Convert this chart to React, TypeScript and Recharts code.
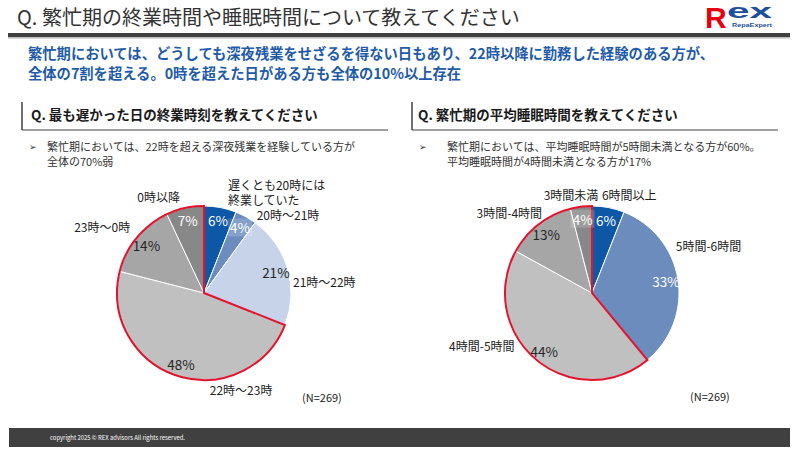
import { Cell, Pie, PieChart } from "recharts";

const FONT = '"Noto Sans CJK JP", "Noto Sans", "DejaVu Sans", sans-serif';
const RAD = Math.PI / 180;

// 最も遅かった日の終業時刻
const END_TIME_LABELS = ["遅くとも20時には\n終業していた", "20時～21時", "21時～22時", "22時～23時", "23時～0時", "0時以降"];
const END_TIME_VALUES = [6, 4, 21, 48, 14, 7];
const END_TIME_HIGHLIGHT_FROM = 3; // 22時以降

// 繁忙期の平均睡眠時間
const SLEEP_LABELS = ["6時間以上", "5時間-6時間", "4時間-5時間", "3時間-4時間", "3時間未満"];
const SLEEP_VALUES = [6, 33, 44, 13, 4];
const SLEEP_HIGHLIGHT_FROM = 2; // 5時間未満

const SAMPLE_NOTE = "(N=269)";

const END_TIME_COLORS = ["#0d57a7", "#6b8cbd", "#c6d3e8", "#c0c0c0", "#a6a6a6", "#888888"];
const END_TIME_TEXT = ["#fff", "#fff", "#262626", "#262626", "#262626", "#fff"];
const SLEEP_COLORS = ["#0d57a7", "#6b8cbd", "#c0c0c0", "#a6a6a6", "#888888"];
const SLEEP_TEXT = ["#fff", "#fff", "#262626", "#262626", "#fff"];

// category label nudges relative to a point just outside the slice
const END_TIME_NUDGE = [
  { dx: 5, dy: -2, anchor: "start" },
  { dx: 4, dy: 10, anchor: "start" },
  { dx: -8, dy: 17, anchor: "start" },
  { dx: 37, dy: 0, anchor: "start" },
  { dx: 4, dy: -2, anchor: "end" },
  { dx: -2, dy: 2, anchor: "end" },
];
const SLEEP_NUDGE = [
  { dx: -9, dy: 1, anchor: "start" },
  { dx: -16, dy: -32, anchor: "start" },
  { dx: -13, dy: -25, anchor: "end" },
  { dx: 12, dy: -1, anchor: "end" },
  { dx: 19, dy: 2, anchor: "end" },
];

const R = 87;
const LINE_GAP = 15;
const sum = (a: number[]) => a.reduce((s, v) => s + v, 0);

function makeLabel(names: string[], nudges: any[], textColors: string[]) {
  return (p: any) => {
    const { cx, cy, midAngle, outerRadius, index, value } = p;
    const a = -midAngle * RAD;
    const ix = cx + outerRadius * 0.86 * Math.cos(a);
    const iy = cy + outerRadius * 0.86 * Math.sin(a);
    const n = nudges[index];
    const ox = cx + (outerRadius + 14) * Math.cos(a) + n.dx;
    const oy = cy + (outerRadius + 14) * Math.sin(a) + n.dy;
    const lines = names[index].split("\n");
    const top = oy - ((lines.length - 1) * LINE_GAP) / 2;
    return (
      <g>
        {value < 5 && <rect x={ix - 12} y={iy - 9} width={24} height={18} fill="#fff" fillOpacity={0.18} />}
        <text x={ix} y={iy} textAnchor="middle" dominantBaseline="central" fontSize={13.5} fill={textColors[index]} fontFamily={FONT}>
          {value}%
        </text>
        {lines.map((l, i) => (
          <text key={i} x={ox} y={top + i * LINE_GAP} textAnchor={n.anchor} dominantBaseline="central" fontSize={12} fill="#222" fontFamily={FONT}>
            {l}
          </text>
        ))}
      </g>
    );
  };
}

function Donut(props: {
  names: string[];
  values: number[];
  colors: string[];
  textColors: string[];
  nudges: any[];
  highlightFrom: number;
  cx: number;
}) {
  const data = props.names.map((name, i) => ({ name, value: props.values[i] }));
  const outline = [
    { name: "rest", value: sum(props.values.slice(0, props.highlightFrom)) },
    { name: "highlight", value: sum(props.values.slice(props.highlightFrom)) },
  ];
  return (
    <PieChart width={400} height={260} margin={{ top: 0, right: 0, bottom: 0, left: 0 }}>
      <Pie
        data={data}
        dataKey="value"
        nameKey="name"
        cx={props.cx}
        cy={143}
        outerRadius={R}
        startAngle={90}
        endAngle={-270}
        stroke="#fff"
        strokeWidth={1}
        labelLine={false}
        label={makeLabel(props.names, props.nudges, props.textColors)}
        isAnimationActive={false}
      >
        {data.map((_, i) => (
          <Cell key={i} fill={props.colors[i]} />
        ))}
      </Pie>
      <Pie
        data={outline}
        dataKey="value"
        cx={props.cx}
        cy={143}
        outerRadius={R}
        startAngle={90}
        endAngle={-270}
        isAnimationActive={false}
      >
        {outline.map((_, i) => (
          <Cell key={i} fill="none" stroke={i === 1 ? "#e3122d" : "none"} strokeWidth={2} />
        ))}
      </Pie>
    </PieChart>
  );
}

export default function App() {
  return (
    <div style={{ position: "absolute", left: 0, top: 0, width: 800, height: 450, background: "#fff", fontFamily: FONT }}>
      <svg width={800} height={450} style={{ position: "absolute", left: 0, top: 0 }} fontFamily={FONT}>
        <text x={17} y={16} fontSize={20} fill="#333" dominantBaseline="central">
          Q. 繁忙期の終業時間や睡眠時間について教えてください
        </text>
        <rect x={8} y={33} width={782} height={4} fill="#404040" />
        <rect x={8} y={37} width={782} height={1.5} fill="#bdbdbd" />

        {/* logo */}
        <text x={705} y={28} fontSize={30} fontWeight={700} fill="#e60012" fontFamily='"Liberation Sans", Arial, sans-serif'>R</text>
        <text x={727} y={18} fontSize={20} fontWeight={700} fill="#1d4f9c" textLength={45} lengthAdjust="spacingAndGlyphs" fontFamily='"Liberation Sans", Arial, sans-serif'>ex</text>
        <text x={732} y={27} fontSize={5.5} fontWeight={700} fill="#1d4f9c" textLength={40} lengthAdjust="spacingAndGlyphs" fontFamily='"Liberation Sans", Arial, sans-serif'>RepaExpert</text>

        <text x={28} y={52} fontSize={14.3} fontWeight={700} fill="#1f5ba8" dominantBaseline="central">
          繁忙期においては、どうしても深夜残業をせざるを得ない日もあり、22時以降に勤務した経験のある方が、
        </text>
        <text x={28} y={72} fontSize={14.3} fontWeight={700} fill="#1f5ba8" dominantBaseline="central">
          全体の7割を超える。0時を超えた日がある方も全体の10%以上存在
        </text>

        {/* left section header */}
        <line x1={22} y1={102} x2={22} y2={130} stroke="#404040" strokeWidth={1.5} />
        <line x1={22} y1={130} x2={388} y2={130} stroke="#404040" strokeWidth={1} />
        <text x={31} y={114} fontSize={13.5} fontWeight={700} fill="#1a1a1a" dominantBaseline="central">
          Q. 最も遅かった日の終業時刻を教えてください
        </text>
        <text x={29} y={146} fontSize={9} fill="#333" dominantBaseline="central">➢</text>
        <text x={47} y={146} fontSize={11} fill="#333" dominantBaseline="central">
          繁忙期においては、22時を超える深夜残業を経験している方が
        </text>
        <text x={47} y={161} fontSize={11} fill="#333" dominantBaseline="central">全体の70%弱</text>

        {/* right section header */}
        <line x1={412} y1={102} x2={412} y2={130} stroke="#404040" strokeWidth={1.5} />
        <line x1={412} y1={130} x2={778} y2={130} stroke="#404040" strokeWidth={1} />
        <text x={418} y={114} fontSize={13.5} fontWeight={700} fill="#1a1a1a" dominantBaseline="central">
          Q. 繁忙期の平均睡眠時間を教えてください
        </text>
        <text x={419} y={146} fontSize={9} fill="#333" dominantBaseline="central">➢</text>
        <text x={447} y={146} fontSize={11} fill="#333" dominantBaseline="central">
          繁忙期においては、平均睡眠時間が5時間未満となる方が60%。
        </text>
        <text x={447} y={161} fontSize={11} fill="#333" dominantBaseline="central">
          平均睡眠時間が4時間未満となる方が17%
        </text>

        <text x={302} y={397} fontSize={11} fill="#222" dominantBaseline="central">{SAMPLE_NOTE}</text>
        <text x={690} y={396} fontSize={11} fill="#222" dominantBaseline="central">{SAMPLE_NOTE}</text>

        {/* footer */}
        <rect x={9} y={428} width={781} height={19} fill="#404040" />
        <text x={50} y={437} fontSize={6.5} fill="#fff" dominantBaseline="central" textLength={135} lengthAdjust="spacingAndGlyphs">
          copyright 2025 © REX advisors All rights reserved.
        </text>
      </svg>

      <div style={{ position: "absolute", left: 0, top: 150 }}>
        <Donut
          names={END_TIME_LABELS}
          values={END_TIME_VALUES}
          colors={END_TIME_COLORS}
          textColors={END_TIME_TEXT}
          nudges={END_TIME_NUDGE}
          highlightFrom={END_TIME_HIGHLIGHT_FROM}
          cx={204}
        />
      </div>
      <div style={{ position: "absolute", left: 400, top: 150 }}>
        <Donut
          names={SLEEP_LABELS}
          values={SLEEP_VALUES}
          colors={SLEEP_COLORS}
          textColors={SLEEP_TEXT}
          nudges={SLEEP_NUDGE}
          highlightFrom={SLEEP_HIGHLIGHT_FROM}
          cx={192}
        />
      </div>
    </div>
  );
}
